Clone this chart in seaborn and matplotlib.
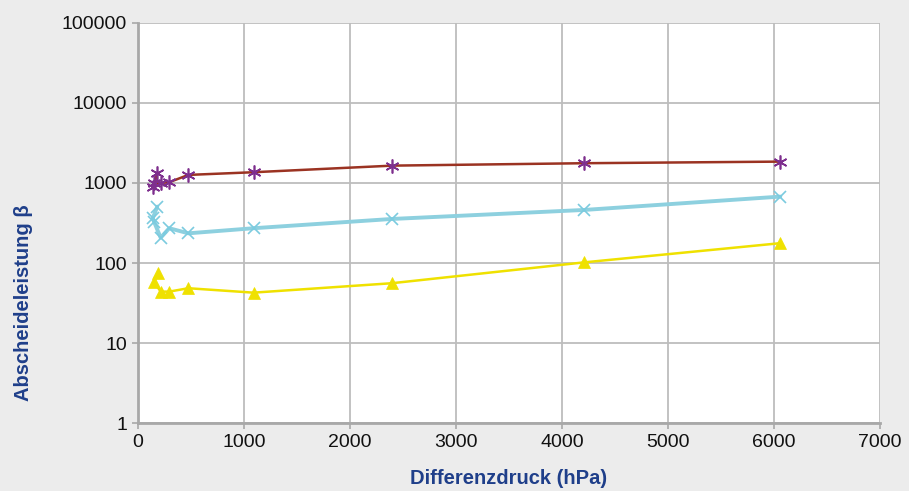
import matplotlib
matplotlib.use("Agg")
import matplotlib.pyplot as plt
import matplotlib.ticker as mticker
import seaborn as sns
import pandas as pd

# Data
x_purple = [182, 145, 155, 214, 295, 475, 1090, 2400, 4210, 6060]
y_purple = [1321, 899, 1000, 1000, 1021, 1259, 1360, 1644, 1762, 1845]

x_cyan = [182, 139, 151, 214, 295, 475, 1090, 2395, 4210, 6060]
y_cyan = [506, 362, 329, 207, 272, 235, 272, 355, 460, 675]

x_yellow = [192, 151, 151, 214, 295, 475, 1090, 2395, 4210, 6060]
y_yellow = [74.6, 61.5, 54.8, 44, 44, 48.5, 42.7, 56, 102, 177]

x_ticks = [0, 1000, 2000, 3000, 4000, 5000, 6000, 7000]
y_ticks = [1, 10, 100, 1000, 10000, 100000]

x_label = "Differenzdruck (hPa)"
y_label = "Abscheideleistung β"

sns.set_theme(style="white")
plt.rcParams['font.family'] = ['Liberation Sans', 'DejaVu Sans']

fig = plt.figure(figsize=(9.09, 4.91), dpi=100, facecolor="#ececec")
ax = fig.add_axes([0.1518, 0.1379, 0.968 - 0.1518, 0.9538 - 0.1379])
ax.set_facecolor("white")

df_p = pd.DataFrame({"x": x_purple, "y": y_purple})
df_c = pd.DataFrame({"x": x_cyan, "y": y_cyan})
df_y = pd.DataFrame({"x": x_yellow, "y": y_yellow})

sns.lineplot(data=df_p, x="x", y="y", sort=False, ax=ax, color="#9b3322", lw=1.8,
             marker=(6, 2, 0), markersize=10, markeredgecolor="#7e2f8e",
             markeredgewidth=1.2, zorder=4)
sns.lineplot(data=df_c, x="x", y="y", sort=False, ax=ax, color="#8dd0df", lw=2.8,
             marker="x", markersize=8, markeredgecolor="#7bcbdf",
             markeredgewidth=1.2, zorder=3)
sns.lineplot(data=df_y, x="x", y="y", sort=False, ax=ax, color="#efe100", lw=1.8,
             marker="^", markersize=9, markerfacecolor="#efe100",
             markeredgecolor="#efe100", markeredgewidth=0.5, zorder=3)

ax.set_yscale("log")
ax.set_xlim(0, 7000)
ax.set_ylim(1, 100000)
ax.set_xticks(x_ticks)
ax.set_yticks(y_ticks)
ax.yaxis.set_major_formatter(mticker.FuncFormatter(lambda v, p: f"{int(round(v))}"))
ax.xaxis.set_major_formatter(mticker.FuncFormatter(lambda v, p: f"{int(round(v))}"))
ax.yaxis.set_minor_locator(mticker.NullLocator())

ax.grid(True, which="major", color="#bdbdbd", lw=1.3)
ax.set_axisbelow(True)
for s in ["top", "right"]:
    ax.spines[s].set_visible(False)
ax.spines["left"].set_color("#a8a8a8")
ax.spines["left"].set_linewidth(2)
ax.spines["bottom"].set_color("#a8a8a8")
ax.spines["bottom"].set_linewidth(2)

ax.tick_params(axis="both", which="major", labelsize=14, colors="#a8a8a8",
               labelcolor="#111111", length=4, width=1.2, direction="out",
               bottom=True, left=True, pad=4)

ax.set_xlabel("")
ax.set_ylabel("")
fig.text(0.5594, 1 - 478 / 491, x_label, fontsize=14.5, fontweight="bold",
         color="#1f3f8a", ha="center", va="center")
fig.text(24 / 909, 1 - 303 / 491, y_label, fontsize=14.5, fontweight="bold",
         color="#1f3f8a", ha="center", va="center", rotation=90)

fig.savefig("out.png", dpi=100, facecolor=fig.get_facecolor())
